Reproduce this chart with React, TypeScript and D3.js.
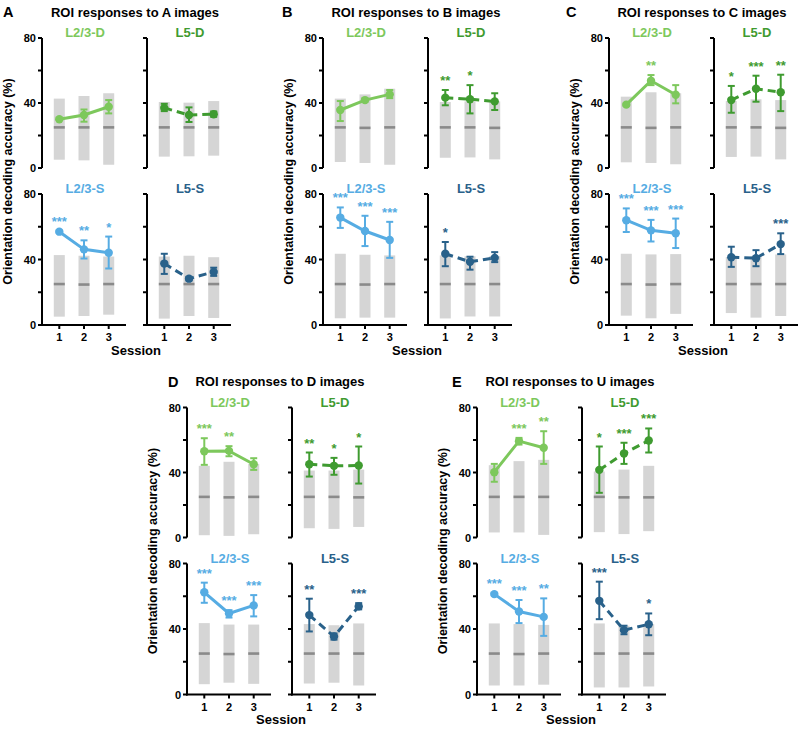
import React from 'react';
import * as d3 from 'd3';

const panelLetters = ['A', 'B', 'C', 'D', 'E'];
const imageSets = ['A', 'B', 'C', 'D', 'U'];
const sessions = [1, 2, 3];
const seriesNames = ['L2/3-D', 'L5-D', 'L2/3-S', 'L5-S'];
const yTicks = [0, 20, 40, 60, 80];
const yTickLabels = ['0', '', '40', '', '80'];
const yLabel = 'Orientation decoding accuracy (%)';
const xLabel = 'Session';

// [panel][series][session]
const meanAccuracy = [
  [[30, 32.6, 37.7], [37, 32.6, 33.1], [57, 46.2, 44.1], [37.5, 28.3, 32.4]],
  [[35.7, 41.8, 45.3], [43.3, 42.3, 41], [65.6, 57.4, 51.9], [43.5, 38.6, 41]],
  [[39, 53.7, 45.1], [41.8, 48.8, 46.6], [64, 57.8, 56], [41.4, 40.8, 49.4]],
  [[53.1, 53.3, 45.1], [45.1, 44.1, 44.3], [62.4, 49.5, 54.4], [48.5, 35.4, 53.8]],
  [[40.2, 59.3, 55.2], [41.6, 51.7, 59.7], [61.3, 50.7, 47.4], [57.2, 39.3, 42.9]],
];
const errLow = [
  [[29.5, 28.5, 33.6], [35, 28.3, 31.5], [56.3, 40.6, 34.5], [31.2, 27.2, 30]],
  [[28.9, 40.8, 43], [38.6, 33.6, 35.7], [59.3, 48.2, 41], [35.9, 33.8, 38.4]],
  [[38.3, 51, 39.8], [34, 40.8, 35], [56.8, 51, 47], [35.5, 35.9, 43.3]],
  [[44.7, 50, 41.6], [37.5, 38.6, 33.2], [56, 47, 47.7], [38.5, 33.5, 52]],
  [[34.3, 57.2, 45.3], [27.5, 45.3, 52.3], [60.5, 43.6, 35.8], [46, 36.8, 36.2]],
];
const errHigh = [
  [[30.5, 36, 41.8], [39.5, 37.3, 34.8], [57.7, 51.7, 54], [43.5, 29.4, 35]],
  [[41.2, 42.8, 48], [48, 51, 46], [71.8, 66.7, 63], [50.7, 41.7, 44.5]],
  [[39.7, 57.2, 51], [50.5, 56.8, 57.4], [71.2, 64.2, 65], [47.8, 45.7, 56]],
  [[61.1, 56.2, 48.8], [52.3, 49, 56], [68.3, 51.5, 60.7], [58.5, 37.3, 55.8]],
  [[45.3, 61.3, 65.4], [56, 58.3, 67.1], [62, 57.7, 58.7], [68.9, 42, 49.5]],
];
const shuffleLow = [
  [[5.1, 4.7, 2], [7, 7.2, 7.6], [5.1, 5.5, 6.3], [3.9, 5.5, 4.3]],
  [[3.7, 3.1, 2], [6.3, 6.5, 5.3], [4.1, 4.5, 4.5], [4, 5.2, 5.2]],
  [[3.5, 3.1, 2.3], [6.8, 7, 5.3], [5.7, 4.1, 6.8], [7.3, 4.5, 5.5]],
  [[1.4, 1, 2], [5.7, 5.3, 6.5], [6.3, 7.2, 6.5], [6.7, 7.2, 5.5]],
  [[3.1, 3.1, 1.6], [3.3, 2.1, 3.9], [5.5, 5.5, 6], [4.3, 4.3, 4.9]],
];
const shuffleHigh = [
  [[42.7, 44.3, 46], [40.6, 40.2, 41.2], [42.7, 42.3, 41.8], [41.8, 42.3, 41.4]],
  [[42.7, 45.3, 48.8], [40.6, 41, 41], [43.5, 42.9, 42.5], [42.5, 42, 42]],
  [[43.9, 46.6, 46], [41.2, 42.3, 41.8], [43.5, 43.1, 43.3], [41.5, 42, 43.1]],
  [[44.1, 46.6, 45.3], [41.2, 41.2, 41.8], [43.6, 42.7, 42.7], [43, 42.3, 43.4]],
  [[44.5, 47, 47.8], [40.6, 41.8, 44.1], [43.4, 43, 42.5], [43.4, 42, 43]],
];
const shuffleMedian = [
  [[25, 25, 25], [25, 25, 25], [25, 24.7, 25], [25, 25, 25]],
  [[25, 24.7, 25], [25, 25, 24.7], [25, 24.7, 25], [25, 25, 25]],
  [[25, 24.7, 25], [25, 25, 24.7], [25, 24.7, 25], [25, 25, 25]],
  [[25, 24.7, 25], [25, 25, 24.7], [25, 24.7, 25], [25, 25, 25]],
  [[25, 25, 25], [25, 24.7, 24.7], [25, 24.7, 25], [25, 25, 25]],
];
const significance = [
  [['', '', ''], ['', '', ''], ['***', '**', '*'], ['', '', '']],
  [['', '', ''], ['**', '*', ''], ['***', '***', '***'], ['*', '', '']],
  [['', '**', ''], ['*', '***', '**'], ['***', '***', '***'], ['', '', '***']],
  [['***', '**', ''], ['**', '*', '*'], ['***', '***', '***'], ['**', '', '***']],
  [['', '***', '**'], ['*', '***', '***'], ['***', '***', '**'], ['***', '', '*']],
];

// styling / layout
const seriesColors = ['#7dc85c', '#3f9b30', '#56ace3', '#29618a'];
const seriesDashed = [false, true, false, true];
const panelAxisX = [42, 323, 609, 187, 477];
const panelRow = [0, 0, 0, 1, 1];
const rowOffset = [0, 369.5];
const letterX = [3, 282, 566, 168, 452];
const FONT = '"Liberation Sans", Arial, sans-serif';

function Subplot({ p, s }: { p: number; s: number }) {
  const dy = rowOffset[panelRow[p]];
  const col = s % 2;
  const r = s < 2 ? 0 : 1;
  const x0 = panelAxisX[p] + col * 105;
  const yr = r === 0 ? [168 + dy, 38 + dy] : [325 + dy, 194 + dy];
  const x = d3.scaleLinear().domain([0.3, 3.7]).range([x0, x0 + 84]);
  const y = d3.scaleLinear().domain([0, 80]).range(yr);
  const color = seriesColors[s];
  const means = meanAccuracy[p][s];
  const line = d3
    .line<number>()
    .x((_, i) => x(sessions[i]))
    .y((d) => y(d));
  const bw = 11;
  return (
    <g>
      {/* shuffled distributions */}
      {sessions.map((ses, i) => (
        <g key={'sh' + i}>
          <rect
            x={x(ses) - bw / 2}
            y={y(shuffleHigh[p][s][i])}
            width={bw}
            height={y(shuffleLow[p][s][i]) - y(shuffleHigh[p][s][i])}
            fill="#d5d5d5"
          />
          <line
            x1={x(ses) - bw / 2}
            x2={x(ses) + bw / 2}
            y1={y(shuffleMedian[p][s][i])}
            y2={y(shuffleMedian[p][s][i])}
            stroke="#8a8a8a"
            strokeWidth={2.6}
          />
        </g>
      ))}
      {/* axes */}
      <line x1={x0} x2={x0} y1={y(0) + (r === 1 ? 1 : 0)} y2={y(80)} stroke="#000" strokeWidth={2} />
      {yTicks.map((t, i) => (
        <g key={'yt' + i}>
          <line x1={x0 - 4} x2={x0} y1={y(t)} y2={y(t)} stroke="#000" strokeWidth={2} />
          {col === 0 && yTickLabels[i] !== '' && (
            <text
              x={x0 - 6}
              y={y(t) + 4}
              textAnchor="end"
              fontSize={11}
              fontWeight="bold"
              fontFamily={FONT}
            >
              {yTickLabels[i]}
            </text>
          )}
        </g>
      ))}
      {r === 1 && (
        <g>
          <line x1={x0 - 1} x2={x0 + 84} y1={y(0)} y2={y(0)} stroke="#000" strokeWidth={2} />
          {sessions.map((ses) => (
            <g key={'xt' + ses}>
              <line x1={x(ses)} x2={x(ses)} y1={y(0)} y2={y(0) + 4} stroke="#000" strokeWidth={2} />
              <text
                x={x(ses)}
                y={y(0) + 16}
                textAnchor="middle"
                fontSize={11}
                fontWeight="bold"
                fontFamily={FONT}
              >
                {ses}
              </text>
            </g>
          ))}
        </g>
      )}
      {/* title */}
      <text
        x={x0 + 43}
        y={yr[1] - 1}
        textAnchor="middle"
        fontSize={13}
        fontWeight="bold"
        fontFamily={FONT}
        fill={color}
      >
        {seriesNames[s]}
      </text>
      {/* data line */}
      <path
        d={line(means) || ''}
        fill="none"
        stroke={color}
        strokeWidth={3}
        strokeDasharray={seriesDashed[s] ? '8,5' : undefined}
      />
      {sessions.map((ses, i) => {
        const lo = errLow[p][s][i];
        const hi = errHigh[p][s][i];
        const cx = x(ses);
        return (
          <g key={'pt' + i}>
            <line x1={cx} x2={cx} y1={y(lo)} y2={y(hi)} stroke={color} strokeWidth={2} />
            <line x1={cx - 3.5} x2={cx + 3.5} y1={y(lo)} y2={y(lo)} stroke={color} strokeWidth={2} />
            <line x1={cx - 3.5} x2={cx + 3.5} y1={y(hi)} y2={y(hi)} stroke={color} strokeWidth={2} />
            <circle cx={cx} cy={y(means[i])} r={4.2} fill={color} />
            {significance[p][s][i] !== '' && (
              <text
                x={cx}
                y={y(hi) - 5}
                textAnchor="middle"
                fontSize={13}
                fontWeight="bold"
                fontFamily={FONT}
                fill={color}
              >
                {significance[p][s][i]}
              </text>
            )}
          </g>
        );
      })}
    </g>
  );
}

function Panel({ p }: { p: number }) {
  const dy = rowOffset[panelRow[p]];
  const ax = panelAxisX[p];
  return (
    <g>
      <text x={letterX[p]} y={17 + dy} fontSize={14.5} fontWeight="bold" fontFamily={FONT}>
        {panelLetters[p]}
      </text>
      <text
        x={ax + 93}
        y={16.5 + dy}
        textAnchor="middle"
        fontSize={13}
        fontWeight="bold"
        fontFamily={FONT}
      >
        {`ROI responses to ${imageSets[p]} images`}
      </text>
      <text
        transform={`translate(${ax - 30.5},${181.5 + dy}) rotate(-90)`}
        textAnchor="middle"
        fontSize={12.5}
        fontWeight="bold"
        fontFamily={FONT}
      >
        {yLabel}
      </text>
      <text
        x={ax + 94}
        y={354.5 + dy}
        textAnchor="middle"
        fontSize={13}
        fontWeight="bold"
        fontFamily={FONT}
      >
        {xLabel}
      </text>
      {seriesNames.map((_, s) => (
        <Subplot key={s} p={p} s={s} />
      ))}
    </g>
  );
}

export default function App() {
  return (
    <svg
      width={798}
      height={731}
      style={{ position: 'absolute', left: 0, top: 0, background: '#fff' }}
    >
      <rect width={798} height={731} fill="#fff" />
      {panelLetters.map((_, p) => (
        <Panel key={p} p={p} />
      ))}
    </svg>
  );
}
